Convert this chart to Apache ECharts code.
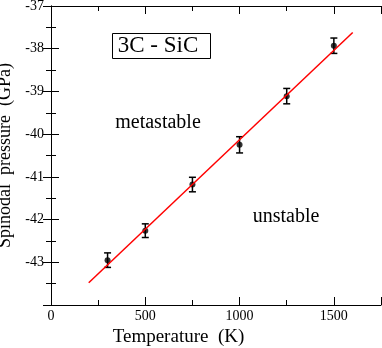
<!DOCTYPE html>
<html>
<head>
<meta charset="utf-8">
<script src="https://cdn.jsdelivr.net/npm/echarts@6/dist/echarts.min.js"></script>
<style>
  html, body { margin: 0; padding: 0; background: #fff; }
  #chart { width: 382px; height: 348px; }
</style>
</head>
<body>
<div id="chart"></div>
<script>
// measured points (temperature K, spinodal pressure GPa, error)
const temps = [300, 500, 750, 1000, 1250, 1500];
const pressures = [-42.95, -42.26, -41.18, -40.25, -39.11, -37.93];
const errors = [0.17, 0.16, 0.17, 0.19, 0.18, 0.18];

// linear fit end points
const fitTemps = [200, 1600];
const fitPressures = [-43.48, -37.62];

const serif = 'Liberation Serif';

let points = temps.map((t, i) => [t, pressures[i]]);
let errData = temps.map((t, i) => [t, pressures[i] - errors[i], pressures[i] + errors[i]]);
let fitLine = fitTemps.map((t, i) => [t, fitPressures[i]]);

let chart = echarts.init(document.getElementById('chart'));

const boxAxis = {
    axisLine: { lineStyle: { color: '#000', width: 1 } },
    axisTick: { inside: true, length: 8, lineStyle: { color: '#000' } },
    minorTick: { show: true, splitNumber: 2, length: 5, lineStyle: { color: '#000' } },
    splitLine: { show: false }
};

chart.setOption({
    animation: false,
    grid: { left: 51, top: 6, right: 1, bottom: 43, outerBoundsMode: 'none', containLabel: false },
    xAxis: [
        Object.assign({
            type: 'value', min: 0, max: 1750, interval: 500,
            name: 'Temperature  (K)', nameLocation: 'middle', nameGap: 22,
            nameTextStyle: { fontFamily: serif, fontSize: 19, color: '#000', padding: [0, 75, 0, 0] },
            axisLabel: {
                fontFamily: serif, fontSize: 14, color: '#000', margin: 4, showMaxLabel: false,
                formatter: v => String(v)
            }
        }, boxAxis),
        Object.assign({
            type: 'value', min: 0, max: 1750, interval: 500, position: 'top',
            axisLabel: { show: false }
        }, boxAxis)
    ],
    yAxis: [
        Object.assign({
            type: 'value', min: -44, max: -37, interval: 1,
            name: 'Spinodal  pressure  (GPa)', nameLocation: 'middle', nameGap: 31,
            nameTextStyle: { fontFamily: serif, fontSize: 18, color: '#000' },
            axisLabel: { fontFamily: serif, fontSize: 14, color: '#000', margin: 7, showMinLabel: false }
        }, boxAxis),
        Object.assign({
            type: 'value', min: -44, max: -37, interval: 1, position: 'right',
            axisLabel: { show: false }
        }, boxAxis)
    ],
    graphic: [
        {
            type: 'rect', left: 112, top: 33,
            shape: { width: 98, height: 25 },
            style: { fill: '#fff', stroke: '#000', lineWidth: 1 }
        },
        {
            type: 'text', x: 158, y: 46,
            style: {
                text: '3C - SiC', fontFamily: serif, fontSize: 23, fill: '#000',
                align: 'center', verticalAlign: 'middle'
            }
        },
        {
            type: 'text', x: 158, y: 123,
            style: {
                text: 'metastable', fontFamily: serif, fontSize: 20, fill: '#000',
                align: 'center', verticalAlign: 'middle'
            }
        },
        {
            type: 'text', x: 286, y: 217,
            style: {
                text: 'unstable', fontFamily: serif, fontSize: 20, fill: '#000',
                align: 'center', verticalAlign: 'middle'
            }
        }
    ],
    series: [
        {
            type: 'line', data: fitLine, showSymbol: false,
            lineStyle: { color: '#ff0000', width: 1.5 }
        },
        {
            type: 'custom', data: errData,
            renderItem: function (params, api) {
                let lo = api.coord([api.value(0), api.value(1)]);
                let hi = api.coord([api.value(0), api.value(2)]);
                let w = 3.5;
                let st = { stroke: '#000', lineWidth: 1.5 };
                return {
                    type: 'group',
                    children: [
                        { type: 'line', shape: { x1: lo[0], y1: lo[1], x2: hi[0], y2: hi[1] }, style: st },
                        { type: 'line', shape: { x1: lo[0] - w, y1: lo[1], x2: lo[0] + w, y2: lo[1] }, style: st },
                        { type: 'line', shape: { x1: hi[0] - w, y1: hi[1], x2: hi[0] + w, y2: hi[1] }, style: st }
                    ]
                };
            }
        },
        {
            type: 'scatter', data: points, symbol: 'circle', symbolSize: 6,
            itemStyle: { color: '#000' }
        }
    ]
});
</script>
</body>
</html>
